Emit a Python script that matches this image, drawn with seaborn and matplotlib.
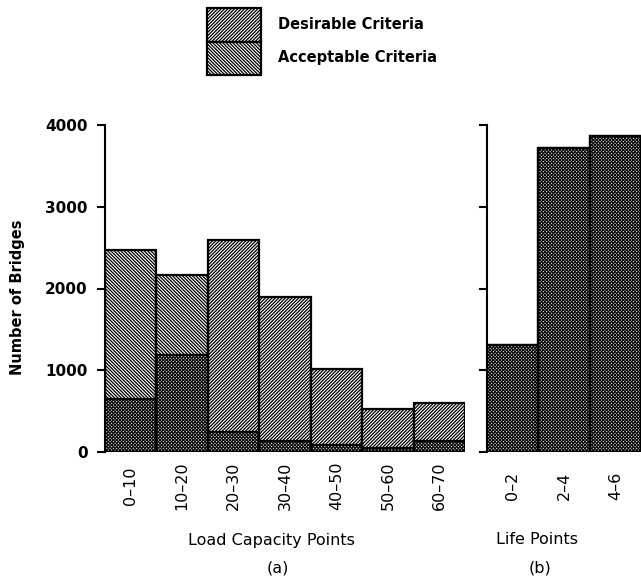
import matplotlib
matplotlib.use("Agg")
import matplotlib.pyplot as plt
from matplotlib.patches import Patch
import seaborn as sns

# ---- data ----
load_bins = ["0\u201310", "10\u201320", "20\u201330", "30\u201340", "40\u201350", "50\u201360", "60\u201370"]
load_desirable = [650, 1190, 2595, 1890, 1010, 525, 600]
load_acceptable = [2470, 2160, 250, 140, 90, 50, 140]

life_bins = ["0\u20132", "2\u20134", "4\u20136"]
life_desirable = [1310, 3715, 3860]
life_acceptable = [1310, 3715, 3860]

y_ticks = [0, 1000, 2000, 3000, 4000]

# ---- style ----
sns.set_theme(style="white")
plt.rcParams["font.family"] = ["DejaVu Sans"]
plt.rcParams["hatch.linewidth"] = 0.9
for k in ["text.color", "axes.labelcolor", "xtick.color", "ytick.color"]:
    plt.rcParams[k] = "black"

HATCH_D = "/" * 10
HATCH_A = "\\" * 10

W, H = 641, 576
fig = plt.figure(figsize=(W / 100, H / 100), dpi=100)
ax_a = fig.add_axes([105 / W, 1 - 452 / H, 360 / W, 327 / H])
ax_b = fig.add_axes([487 / W, 1 - 452 / H, 154 / W, 327 / H])


def draw(ax, bins, des, acc):
    sns.barplot(x=bins, y=des, ax=ax, color="white", width=1.0,
                edgecolor="black", linewidth=1.6, errorbar=None)
    n0 = len(ax.patches)
    sns.barplot(x=bins, y=acc, ax=ax, color="white", width=1.0,
                edgecolor="black", linewidth=1.6, errorbar=None)
    for i, p in enumerate(ax.patches):
        if i < n0:
            p.set_hatch(HATCH_D)
            p.set_facecolor("white")
        else:
            p.set_hatch(HATCH_A)
            p.set_facecolor("none")
        p.set_edgecolor("black")
    ax.set_ylim(0, 4000)
    ax.set_yticks(y_ticks)
    for s in ["top", "right", "bottom"]:
        ax.spines[s].set_visible(False)
    ax.spines["left"].set_linewidth(1.5)
    ax.spines["left"].set_color("black")
    ax.tick_params(axis="y", direction="out", length=5.5, width=1.5,
                   color="black", left=True, pad=7)
    ax.tick_params(axis="x", length=0, pad=24.5)
    ax.set_xticks(range(len(bins)))
    ax.set_xticklabels(bins, rotation=90, fontsize=11.5)
    for lbl in ax.get_xticklabels():
        lbl.set_va("center")
    ax.set_xlabel("")
    ax.set_ylabel("")


draw(ax_a, load_bins, load_desirable, load_acceptable)
draw(ax_b, life_bins, life_desirable, life_acceptable)

ax_a.set_xlim(-0.5, 6.5)
ax_b.set_xlim(-0.5, 2.5)

ax_a.set_yticklabels([str(t) for t in y_ticks], fontsize=11, fontweight="bold")
ax_b.set_yticklabels([])

ax_a.set_ylabel("Number of Bridges", fontsize=10.5, fontweight="bold")
ax_a.yaxis.set_label_coords((18 - 105) / 360, (452 - 297) / 327)
ax_a.yaxis.label.set_va("center")

ax_a.set_xlabel("Load Capacity Points", fontsize=11.5)
ax_a.xaxis.set_label_coords((271 - 105) / 360, -(540 - 452) / 327)
ax_a.xaxis.label.set_va("center")

ax_b.set_xlabel("Life Points", fontsize=11.5)
ax_b.xaxis.set_label_coords((537 - 487) / 154, -(540 - 452) / 327)
ax_b.xaxis.label.set_va("center")

fig.text(278 / W, 1 - 568 / H, "(a)", ha="center", va="center", fontsize=11.5)
fig.text(540 / W, 1 - 568 / H, "(b)", ha="center", va="center", fontsize=11.5)

handles = [
    Patch(facecolor="white", edgecolor="black", hatch=HATCH_D, linewidth=1.6,
          label="Desirable Criteria"),
    Patch(facecolor="white", edgecolor="black", hatch=HATCH_A, linewidth=1.6,
          label="Acceptable Criteria"),
]
fs = 10.5
fpx = fs * 100 / 72
box_h_pt = 33.5 * 72 / 100
hh = (box_h_pt / fs - 0.245) / 0.65
fig.legend(handles=handles, loc="upper left",
           bbox_to_anchor=(207 / W, 1 - 8 / H), frameon=False,
           borderpad=0, borderaxespad=0, labelspacing=0,
           handlelength=54 / fpx, handleheight=hh,
           handletextpad=17 / fpx,
           prop={"size": fs, "weight": "bold"})

fig.savefig("out.png", dpi=100)
